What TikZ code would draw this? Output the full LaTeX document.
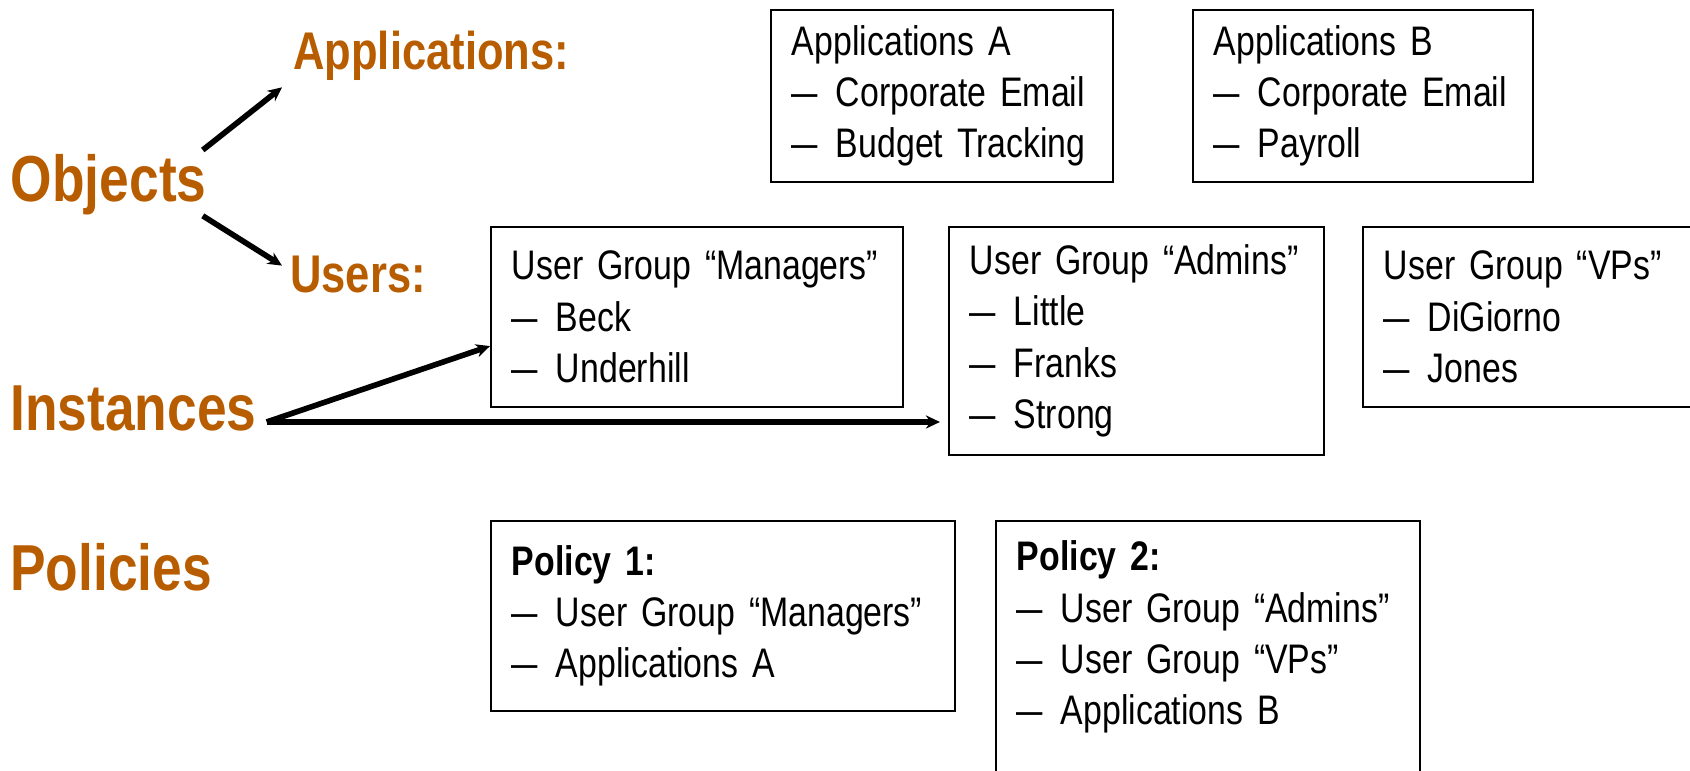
\documentclass[tikz,border=0pt]{standalone}
\usepackage{fontspec}
\setmainfont{Liberation Sans}[FakeStretch=0.82, WordSpace=0.82]
\usetikzlibrary{arrows.meta,calc,positioning}
\definecolor{rust}{RGB}{184,92,0}
\hyphenpenalty=10000
\newcommand{\dashitem}{\makebox[0.88cm][l]{\scalebox{1.4}[1]{–}}}
\tikzset{%
  >={Stealth[length=8pt,width=7.5pt]},
  % Specifications for the labels and the boxes:
         heading/.style = {anchor=base west, inner sep=0pt, text=rust,
                           font=\bfseries\fontsize{37}{40}\selectfont},
      subheading/.style = {heading, font=\bfseries\fontsize{30.2}{33}\selectfont},
         listbox/.style = {rectangle, draw=black, line width=1.1pt,
                           anchor=north west, align=left,
                           inner xsep=0.42cm, inner ysep=0.3cm,
                           font=\fontsize{23.5}{29.2}\selectfont},
            link/.style = {->, line width=3.2pt},
}

\begin{document}
\begin{tikzpicture}
  \useasboundingbox (0,0) rectangle (33.8,15.42);

  \node (objects)   [heading]    at (0.21,11.38) {Objects};
  \node (instances) [heading]    at (0.2,6.8)    {Instances};
  \node (policies)  [heading]    at (0.2,3.6)    {Policies};
  \node (apps)      [subheading] at (5.86,14.02) {Applications:};
  \node (users)     [subheading] at (5.8,9.56)   {Users:};

  \node (appA) [listbox, text width=6.0cm, minimum height=3.44cm] at (15.4,15.24)
    {Applications A\\ \dashitem Corporate Email\\ \dashitem Budget Tracking};
  \node (appB) [listbox, text width=5.96cm, minimum height=3.44cm,
                right=1.56cm of appA.north east, anchor=north west]
    {Applications B\\ \dashitem Corporate Email\\ \dashitem Payroll};

  \node (managers) [listbox, text width=7.4cm, minimum height=3.6cm] at (9.8,10.9)
    {User Group “Managers”\\ \dashitem Beck\\ \dashitem Underhill};
  \node (admins) [listbox, text width=6.66cm, minimum height=4.56cm,
                  right=0.88cm of managers.north east, anchor=north west]
    {User Group “Admins”\\ \dashitem Little\\ \dashitem Franks\\ \dashitem Strong};
  \node (vps) [listbox, text width=5.76cm, minimum height=3.6cm,
               right=0.74cm of admins.north east, anchor=north west]
    {User Group “VPs”\\ \dashitem DiGiorno\\ \dashitem Jones};

  \node (pol1) [listbox, text width=8.44cm, minimum height=3.8cm] at (9.8,5.02)
    {\textbf{Policy 1:}\\ \dashitem User Group “Managers”\\ \dashitem Applications A};
  \node (pol2) [listbox, text width=7.64cm, inner ysep=0.4cm, text depth=5cm,
                right=0.78cm of pol1.north east, anchor=north west]
    {\textbf{Policy 2:}\\ \dashitem User Group “Admins”\\ \dashitem User Group “VPs”\\ \dashitem Applications B};

  \draw[link] ($(objects.north east)+(-0.08,0.09)$) -- ($(apps.south west)+(-0.22,-0.12)$);
  \draw[link] ($(objects.south east)+(-0.08,0)$) -- ($(users.north west)+(-0.16,-0.19)$);

  \coordinate (fork) at ($(instances.base east)+(0.2,0.18)$);
  \draw[link] (fork) -- ($(managers.south west)!0.34!(managers.north west)$);
  \draw[link, shorten >=0.16cm] (fork) -- (fork -| admins.west);

\end{tikzpicture}
\end{document}
